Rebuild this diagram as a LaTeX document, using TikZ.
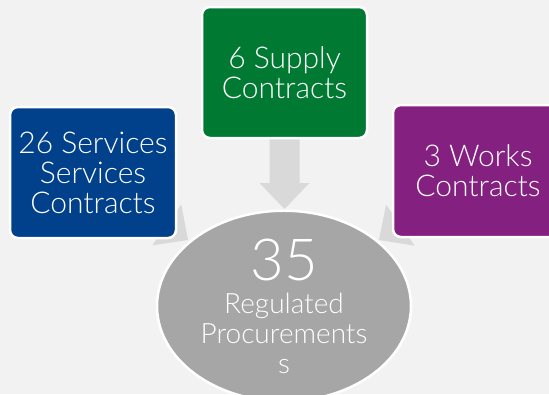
\documentclass[tikz,border=0pt]{standalone}
\usepackage{fontspec}
\setmainfont{Lato}[UprightFont={* Light}]
\usetikzlibrary{shapes.geometric,calc,backgrounds}

\definecolor{bgGrey}{HTML}{F2F2F2}
\definecolor{arrGrey}{HTML}{D9D9D9}
\definecolor{svcBlue}{HTML}{01408A}
\definecolor{supGreen}{HTML}{007A33}
\definecolor{wrkPurple}{HTML}{842080}
\definecolor{totGrey}{HTML}{A6A6A6}

\tikzset{
    box/.style={rectangle, rounded corners=8pt, draw=white, line width=2.5pt,
        text=white, align=center, inner sep=0pt,
        minimum width=166pt, minimum height=131pt,
        font=\fontsize{30}{30}\selectfont},
    total/.style={ellipse, draw=white, line width=2.5pt, fill=totGrey,
        text=white, align=center, inner sep=0pt,
        minimum width=254pt, minimum height=176pt,
        font=\fontsize{28}{30}\selectfont}
}

% block arrow from #1 (hidden end) to #2 (tip)
\newcommand{\blockarr}[2]{%
    \coordinate (hb) at ($(#2)!26pt!(#1)$);
    \fill[arrGrey] ($(#1)!15pt!90:(#2)$) -- ($(hb)!15pt!90:(#2)$)
        -- ($(hb)!25pt!90:(#2)$) -- (#2) -- ($(hb)!25pt!-90:(#2)$)
        -- ($(hb)!15pt!-90:(#2)$) -- ($(#1)!15pt!-90:(#2)$) -- cycle;}

\begin{document}
\begin{tikzpicture}[x=1pt, y=-1pt]
    \useasboundingbox (0,0) rectangle (549,394);

    \node[box, fill=svcBlue] (services) at (93,172.5) {26 Services\\Services\\Contracts};
    \node[box, fill=supGreen, minimum width=165pt] (supply) at (284.5,72.5) {6 Supply\\Contracts};
    \node[box, fill=wrkPurple, minimum width=170pt, minimum height=132pt] (works) at (478,171) {3 Works\\Contracts};
    \node[total] (regulated) at (284,306)
        {{\fontsize{58}{58}\selectfont 35}\\[3pt]Regulated\\Procurements\\s};

    \coordinate (tipServices) at (188,240);
    \coordinate (tipSupply) at (284.5,209);
    \coordinate (tipWorks) at (379,240);

    \begin{scope}[on background layer]
        \fill[bgGrey] (0,0) rectangle (549,394);
        \blockarr{services.center}{tipServices}
        \blockarr{supply.center}{tipSupply}
        \blockarr{works.center}{tipWorks}
    \end{scope}
\end{tikzpicture}
\end{document}
